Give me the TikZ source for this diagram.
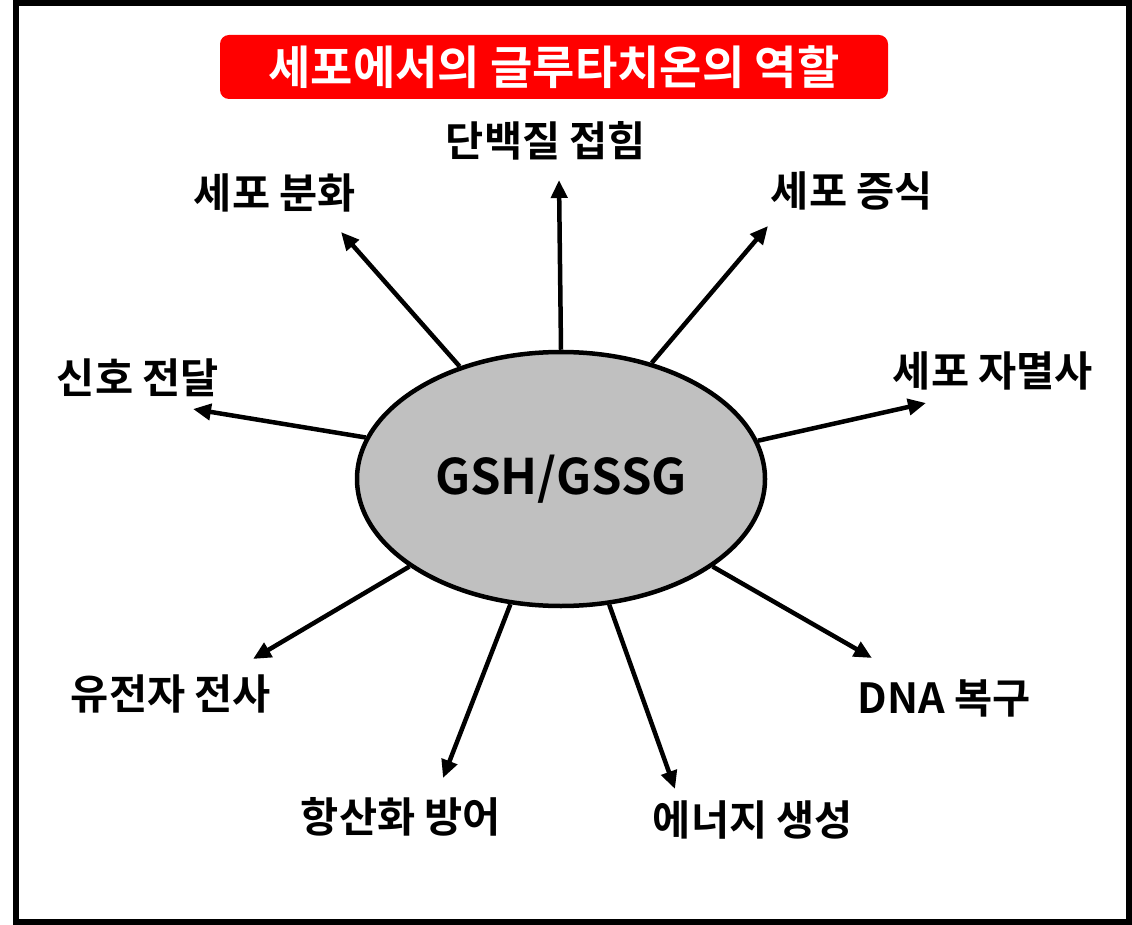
\documentclass[tikz,border=0pt]{standalone}
\usepackage{fontspec}
\setmainfont{Noto Sans CJK KR}[BoldFont={Noto Sans CJK KR Bold}]
\usetikzlibrary{shapes.geometric,arrows.meta}
\begin{document}
\begin{tikzpicture}[x=1pt,y=-1pt,
  lbl/.style={inner sep=0pt,font=\fontsize{41.5}{48}\selectfont\bfseries},
  ttl/.style={fill=red,rounded corners=9pt,minimum width=668pt,minimum height=64pt,inner sep=0pt,text=white,font=\fontsize{46}{52}\selectfont\bfseries},
  core/.style={ellipse,draw,line width=4.5pt,fill={rgb,255:red,192;green,192;blue,192},minimum width=408pt,minimum height=254pt,inner sep=0pt,font=\fontsize{49}{56}\selectfont\bfseries},
  arr/.style={line width=4.5pt,-{Triangle[length=18pt,width=16pt]}}]
\useasboundingbox (0,0) rectangle (1132,925);
\draw[line width=6pt] (16,3) rectangle (1129,922);
\node[ttl] (title) at (554,67) {세포에서의 글루타치온의 역할};
\node[core] (g) at (561,479) {GSH/GSSG};
% labels
\node[lbl] (l1) at (546,141) {단백질 접힘};
\node[lbl] (l2) at (852,191) {세포 증식};
\node[lbl] (l3) at (993,371) {세포 자멸사};
\node[lbl] (l4) at (944,698) {DNA 복구};
\node[lbl] (l5) at (753,820) {에너지 생성};
\node[lbl] (l6) at (401,817) {항산화 방어};
\node[lbl] (l7) at (171,694) {유전자 전사};
\node[lbl] (l8) at (138,378) {신호 전달};
\node[lbl] (l9) at (275,193) {세포 분화};
% arrow tips
\coordinate (t1) at (559,180);
\coordinate (t2) at (768,226);
\coordinate (t3) at (926,403);
\coordinate (t4) at (872,658);
\coordinate (t5) at (675,789);
\coordinate (t6) at (443,778);
\coordinate (t7) at (253,659);
\coordinate (t8) at (193,409);
\coordinate (t9) at (341,232);
\draw[arr] (g.90.9) -- (t1);
\draw[arr] (g.52.4) -- (t2);
\draw[arr] (g.11.9) -- (t3);
\draw[arr] (g.-30.4) -- (t4);
\draw[arr] (g.-69.7) -- (t5);
\draw[arr] (g.-112.6) -- (t6);
\draw[arr] (g.210.7) -- (t7);
\draw[arr] (g.168.9) -- (t8);
\draw[arr] (g.132.1) -- (t9);
\end{tikzpicture}
\end{document}
